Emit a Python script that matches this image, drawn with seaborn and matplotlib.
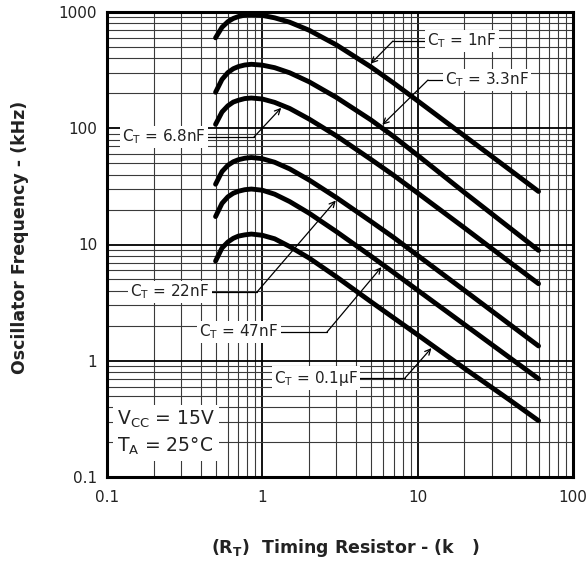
import numpy as np
import pandas as pd
import matplotlib
matplotlib.use("Agg")
import matplotlib.pyplot as plt
import matplotlib.ticker as mticker
import seaborn as sns

# timing resistor (kOhm) where the curves were read
r_t = [0.5, 0.55, 0.6, 0.65, 0.7, 0.77, 0.85, 1, 1.2, 1.5, 2, 3, 5, 7, 10, 20, 40, 60]

# oscillator frequency (kHz) per timing capacitor
f_1nf = [600, 739, 825, 880, 913, 940, 950, 935, 891, 817, 697, 521, 337, 245, 172, 86, 43, 28.6]
f_3n3 = [204, 263, 301, 325, 339, 350, 355, 349, 332, 300, 251, 184, 118, 85, 58.5, 28, 13.6, 8.9]
f_6n8 = [108, 138, 156, 168, 174, 180, 182, 178.5, 167, 148, 120, 86, 54, 39.4, 27.7, 13.9, 6.9, 4.6]
f_22n = [33, 42.4, 48, 51.5, 53.6, 55.2, 56, 54.7, 51, 44.7, 35.9, 25.3, 15.8, 11.5, 8.05, 4.03, 2.01, 1.34]
f_47n = [17.4, 22.6, 25.7, 27.6, 28.7, 29.6, 30, 29.3, 27.1, 23.4, 18.6, 12.9, 7.95, 5.74, 4.04, 2.05, 1.04, 0.70]
f_100n = [7.2, 9.33, 10.5, 11.3, 11.8, 12.1, 12.3, 12.0, 11.2, 9.6, 7.65, 5.27, 3.22, 2.34, 1.67, 0.86, 0.45, 0.305]

cap_labels = ["C$_\\mathrm{T}$ = 1nF", "C$_\\mathrm{T}$ = 3.3nF", "C$_\\mathrm{T}$ = 6.8nF",
              "C$_\\mathrm{T}$ = 22nF", "C$_\\mathrm{T}$ = 47nF", "C$_\\mathrm{T}$ = 0.1\u03bcF"]
curves = [f_1nf, f_3n3, f_6n8, f_22n, f_47n, f_100n]

# where each label arrow hits its curve (kOhm)
arrow_r = [4.85, 5.75, 1.36, 3.05, 6.0, 12.6]

x_ticks = [0.1, 1, 10, 100]
y_ticks = [0.1, 1, 10, 100, 1000]

# long form table for seaborn
df = pd.concat([pd.DataFrame({"R": r_t, "f": f, "ct": lab}) for f, lab in zip(curves, cap_labels)],
               ignore_index=True)

sns.set_style("white")
plt.rcParams["font.family"] = ["DejaVu Sans"]

fig = plt.figure(figsize=(5.86, 5.65), dpi=100)
ax = fig.add_axes([107 / 586, 1 - 477 / 565, 466 / 586, 465 / 565])

ax.set_xscale("log")
ax.set_yscale("log")
ax.set_xlim(0.1, 100)
ax.set_ylim(0.1, 1000)

sns.lineplot(data=df, x="R", y="f", units="ct", estimator=None, color="black",
             lw=3.5, solid_capstyle="round", solid_joinstyle="round", ax=ax, legend=False, zorder=5)

# grid
ax.xaxis.set_major_locator(mticker.FixedLocator(x_ticks))
ax.yaxis.set_major_locator(mticker.FixedLocator(y_ticks))
ax.xaxis.set_minor_locator(mticker.LogLocator(base=10, subs=np.arange(2, 10)))
ax.yaxis.set_minor_locator(mticker.LogLocator(base=10, subs=np.arange(2, 10)))
fmt = mticker.FuncFormatter(lambda v, _: f"{v:g}")
ax.xaxis.set_major_formatter(fmt)
ax.yaxis.set_major_formatter(fmt)
ax.xaxis.set_minor_formatter(mticker.NullFormatter())
ax.yaxis.set_minor_formatter(mticker.NullFormatter())
ax.grid(which="major", color="black", lw=1.3)
ax.grid(which="minor", color="#3a3a3a", lw=0.8)
ax.set_axisbelow(True)
ax.tick_params(which="both", length=0, labelsize=11, colors="#222222")
ax.tick_params(axis="x", pad=9)
ax.tick_params(axis="y", pad=7)
for s in ax.spines.values():
    s.set_linewidth(2.2)
    s.set_color("black")
    s.set_zorder(10)

ax.set_xlabel("")
ax.set_ylabel("")


def ax_frac(px, py):
    return ((px - 107) / 466, (477 - py) / 465)


# label centre and elbow, in pixels of the layout
label_pos = [(462, 41), (487, 80), (164, 137), (170, 292), (239, 332), (316, 378)]
elbow_pos = [(393, 41), (428, 80), (254, 137), (257, 292), (327, 332), (405, 378)]

for lab, f, rt, lp, ep in zip(cap_labels, curves, arrow_r, label_pos, elbow_pos):
    tip_f = 10 ** np.interp(np.log10(rt), np.log10(r_t), np.log10(f))
    lx, ly = ax_frac(*lp)
    ex, ey = ax_frac(*ep)
    ax.plot([lx, ex], [ly, ey], color="black", lw=0.9, transform=ax.transAxes, zorder=6)
    ax.annotate("", xy=(rt, tip_f), xycoords="data", xytext=(ex, ey), textcoords="axes fraction",
                arrowprops=dict(arrowstyle="->", color="black", lw=0.9, shrinkA=0, shrinkB=2,
                                mutation_scale=10), zorder=6)
    ax.text(lx, ly, lab, transform=ax.transAxes, ha="center", va="center", fontsize=11,
            color="#222222", zorder=7,
            bbox=dict(facecolor="white", edgecolor="none", pad=1.5))

vx, vy = ax_frac(117, 433)
ax.text(vx, vy, "V$_\\mathrm{CC}$ = 15V\nT$_\\mathrm{A}$ = 25\u00b0C", transform=ax.transAxes,
        ha="left", va="center", fontsize=13.5, color="#222222", linespacing=1.35, zorder=7,
        bbox=dict(facecolor="white", edgecolor="none", pad=3))

fig.text(0.034, 1 - 237 / 565, "Oscillator Frequency - (kHz)", rotation=90, ha="center",
         va="center", fontsize=12.5, fontweight="bold", color="#222222")
fig.text(345 / 586, 1 - 548 / 565, "(R$_\\mathbf{T}$)  Timing Resistor - (k   )", ha="center",
         va="center", fontsize=12.5, fontweight="bold", color="#222222")

fig.savefig("out.png", dpi=100)
